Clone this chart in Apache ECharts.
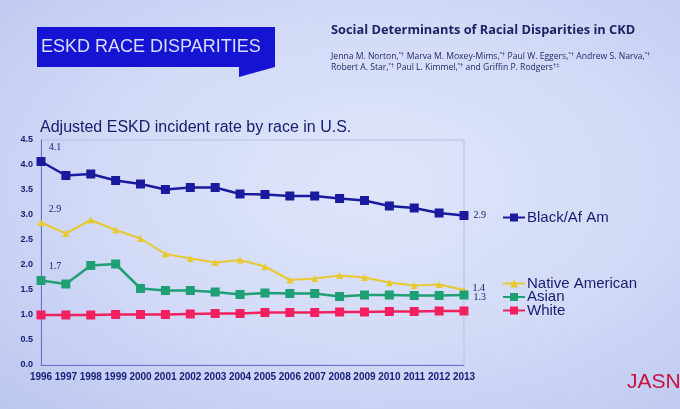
<!DOCTYPE html>
<html><head><meta charset="utf-8">
<script src="https://cdn.jsdelivr.net/npm/echarts@6/dist/echarts.min.js"></script>
<style>
html,body{margin:0;padding:0;}
body{width:680px;height:409px;background:radial-gradient(ellipse at 55% 45%, #dfe5fa 0%, #d3dbf7 50%, #bcc7f0 100%);}
#c{width:680px;height:409px;}
</style></head><body><div id="c"></div>
<script>
const years = ['1996','1997','1998','1999','2000','2001','2002','2003','2004','2005','2006','2007','2008','2009','2010','2011','2012','2013'];
const black = [4.07,3.79,3.82,3.69,3.62,3.51,3.55,3.55,3.42,3.41,3.38,3.38,3.33,3.29,3.18,3.14,3.04,2.99];
const nativeAm = [2.85,2.63,2.90,2.70,2.53,2.22,2.13,2.05,2.10,1.97,1.70,1.73,1.79,1.75,1.65,1.59,1.61,1.50];
const asian = [1.69,1.62,1.99,2.02,1.53,1.49,1.49,1.46,1.41,1.44,1.43,1.43,1.37,1.40,1.40,1.39,1.39,1.40];
const white = [1.00,1.00,1.00,1.01,1.01,1.01,1.02,1.03,1.03,1.05,1.05,1.05,1.06,1.06,1.07,1.07,1.08,1.08];
const yTicks = ['0.0','0.5','1.0','1.5','2.0','2.5','3.0','3.5','4.0','4.5'];
// printed annotations (index -> text)
const blackNotes = {0:'4.1', 17:'2.9'};
const nativeNotes = {0:'2.9', 17:'1.4'};
const asianNotes = {0:'1.7', 17:'1.3'};

const navy = '#17207a';
function withNotes(vals, notes, lastOffset){
  return vals.map((v,i)=>{
    if(notes[i]===undefined) return v;
    return {value:v, label:{show:true, formatter:notes[i], position: i===0?'top':'right',
      fontFamily:'"Liberation Serif","DejaVu Serif",serif', fontSize:10, color:navy,
      offset: i===0?[14,0]:lastOffset}};
  });
}
const chart = echarts.init(document.getElementById('c'));
chart.setOption({
  backgroundColor:'transparent',
  animation:false,
  graphic:[
    {type:'polygon', shape:{points:[[37,27],[275,27],[275,67],[239,77],[239,67],[37,67]]}, style:{fill:'#1414d2'}},
    {type:'text', left:41, top:38, style:{text:'ESKD RACE DISPARITIES', fill:'#dcdcff', font:'18px "Liberation Sans", Arial, sans-serif'}},
    {type:'text', left:331, top:24, style:{text:'Social Determinants of Racial Disparities in CKD', fill:'#1c2466', font:'bold 12.8px "Open Sans","Liberation Sans", sans-serif'}},
    {type:'text', left:331, top:51, style:{
      text:'Jenna M. Norton,{s|*†} Marva M. Moxey-Mims,{s|*†} Paul W. Eggers,{s|*†} Andrew S. Narva,{s|*†}\nRobert A. Star,{s|*†} Paul L. Kimmel,{s|*†} and Griffin P. Rodgers{s|†‡}',
      fill:'#232a66', font:'8.6px "Open Sans","Liberation Sans", sans-serif', lineHeight:11,
      rich:{s:{fontSize:6, verticalAlign:'top', fill:'#232a66', padding:[0,0,4,0]}}}},
    {type:'text', left:40, top:120, style:{text:'Adjusted ESKD incident rate by race in U.S.', fill:'#16206c', font:'16px "Liberation Sans", Arial, sans-serif'}},
    {type:'text', left:627, top:372, style:{text:'JASN', fill:'#c8123e', font:'21px "Liberation Sans", Arial, sans-serif'}}
  ],
  grid:{left:41, right:216, top:140, bottom:44, show:true, borderColor:'#b9c1e4', borderWidth:1, backgroundColor:'transparent'},
  legend:[
    {data:['Black/Af Am'], left:497, top:205, itemWidth:22, itemHeight:10, itemGap:0,
     textStyle:{color:'#141c70', fontSize:15, padding:[0,0,0,-3], fontFamily:'"Liberation Sans", Arial, sans-serif'}},
    {data:['Native American','Asian','White'], left:497, top:271, orient:'vertical', itemGap:-1.5, itemWidth:22, itemHeight:10,
     textStyle:{color:'#141c70', fontSize:15, padding:[0,0,0,-3], fontFamily:'"Liberation Sans", Arial, sans-serif'}}
  ],
  xAxis:{type:'category', data:years, boundaryGap:false,
    axisLine:{lineStyle:{color:'#6a6ec8', width:1}}, axisTick:{show:false},
    axisLabel:{color:navy, fontWeight:'bold', fontSize:10, margin:7, interval:0, fontFamily:'"Liberation Sans", Arial, sans-serif'},
    splitLine:{show:false}},
  yAxis:{type:'value', min:0, max:4.5, interval:0.5,
    axisLine:{show:true, lineStyle:{color:'#6a6ec8', width:1}}, axisTick:{show:false},
    axisLabel:{color:navy, fontWeight:'bold', fontSize:9, margin:8, fontFamily:'"Liberation Sans", Arial, sans-serif',
      formatter:(v)=>yTicks[Math.round(v*2)]},
    splitLine:{show:false}},
  series:[
    {name:'Black/Af Am', type:'line', data:withNotes(black, blackNotes,[0,0]), symbol:'rect', symbolSize:9,
     lineStyle:{color:'#1a1a9e', width:2.5}, itemStyle:{color:'#1a1a9e'}},
    {name:'Native American', type:'line', data:withNotes(nativeAm, nativeNotes,[0,-2]), symbol:'triangle', symbolSize:7,
     lineStyle:{color:'#e9c832', width:2}, itemStyle:{color:'#e9c832'}},
    {name:'Asian', type:'line', data:withNotes(asian, asianNotes,[0,2]), symbol:'rect', symbolSize:9,
     lineStyle:{color:'#1ea074', width:2.5}, itemStyle:{color:'#1ea074'}},
    {name:'White', type:'line', data:white, symbol:'rect', symbolSize:9,
     lineStyle:{color:'#f2205e', width:2.5}, itemStyle:{color:'#f2205e'}}
  ]
});
</script></body></html>
